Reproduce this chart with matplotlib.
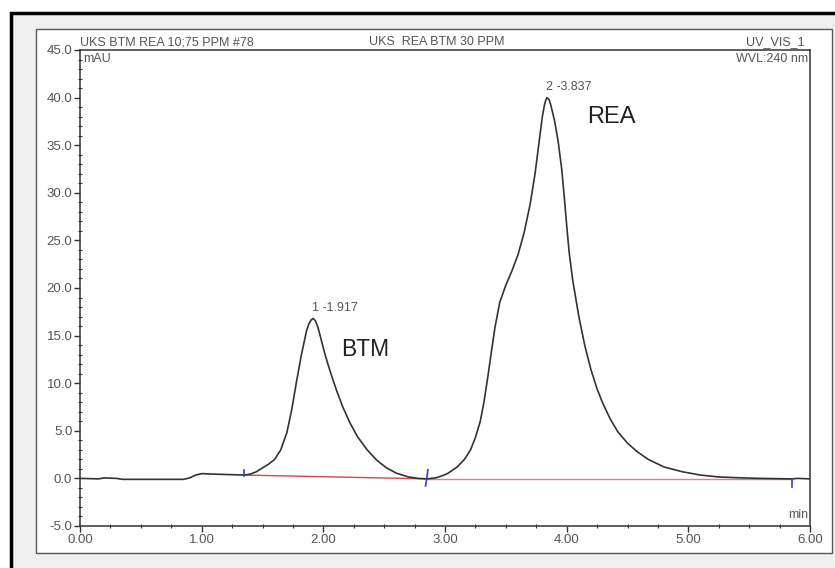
import matplotlib
matplotlib.use("Agg")
import matplotlib.pyplot as plt
from matplotlib.patches import Rectangle
from matplotlib.ticker import MultipleLocator, FormatStrFormatter

plt.rcParams['font.family'] = ['Liberation Sans', 'DejaVu Sans']

# chromatogram trace (min, mAU)
time_min = [0.00, 0.15, 0.20, 0.30, 0.35, 0.85, 0.90, 0.95, 1.00, 1.10, 1.35,
            1.40, 1.45, 1.50, 1.55, 1.60, 1.65, 1.70, 1.74, 1.78, 1.82, 1.86,
            1.88, 1.90, 1.917, 1.935, 1.955, 1.98, 2.01, 2.04, 2.07, 2.11, 2.16,
            2.22, 2.28, 2.36, 2.44, 2.52, 2.60, 2.70, 2.78, 2.85, 2.92, 2.96,
            3.02, 3.10, 3.16, 3.21, 3.25, 3.29, 3.32, 3.35, 3.38, 3.41, 3.45,
            3.50, 3.55, 3.60, 3.65, 3.70, 3.74, 3.77, 3.80, 3.82, 3.837, 3.855,
            3.87, 3.90, 3.93, 3.96, 3.98, 4.00, 4.02, 4.05, 4.10, 4.15, 4.20,
            4.25, 4.30, 4.36, 4.42, 4.50, 4.58, 4.67, 4.80, 4.95, 5.10, 5.25,
            5.45, 5.60, 5.85, 5.90, 6.00]
signal_mau = [0.0, -0.05, 0.05, 0.0, -0.1, -0.1, 0.05, 0.35, 0.5, 0.45, 0.35,
              0.45, 0.7, 1.1, 1.5, 2.0, 3.0, 4.8, 7.2, 10.2, 13.0, 15.4,
              16.2, 16.65, 16.8, 16.55, 15.9, 14.7, 13.2, 11.9, 10.7, 9.2, 7.5,
              5.8, 4.4, 3.0, 1.9, 1.1, 0.55, 0.15, 0.0, -0.05, 0.05, 0.2,
              0.5, 1.2, 2.0, 3.0, 4.3, 6.0, 8.0, 10.5, 13.2, 15.8, 18.5,
              20.3, 21.8, 23.5, 25.8, 28.8, 32.0, 35.0, 38.0, 39.4, 40.0, 39.8,
              39.2, 37.6, 35.4, 32.4, 29.6, 26.6, 23.8, 20.8, 17.0, 13.9, 11.4,
              9.4, 7.8, 6.2, 4.9, 3.7, 2.8, 2.0, 1.2, 0.7, 0.35, 0.15,
              0.05, 0.0, -0.05, 0.0, -0.05]

# integration baselines
base1_t = [1.35, 2.85]
base1_v = [0.35, -0.05]
base2_t = [2.85, 5.85]
base2_v = [-0.05, -0.05]

# peak start/end markers (x0, x1, y0, y1)
marker_t0 = [1.35, 2.84, 5.85]
marker_t1 = [1.35, 2.86, 5.85]
marker_v0 = [0.2, -0.8, -0.9]
marker_v1 = [0.9, 0.9, -0.1]

peak_rt = [1.917, 3.837]
peak_h = [16.8, 40.0]
peak_tags = ["1 -1.917", "2 -3.837"]

fig = plt.figure(figsize=(8.35, 5.68), dpi=100)
fig.patch.set_facecolor("white")
W, H = 835.0, 568.0

# outer frame and inner panel
fig.patches.append(Rectangle((11 / W, -0.1), 1.2, 1 - 13 / H + 0.1,
                             transform=fig.transFigure, facecolor="#efefef",
                             edgecolor="black", lw=2.5, zorder=-3))
fig.patches.append(Rectangle((36 / W, 1 - 553 / H), (832 - 36) / W, (553 - 29) / H,
                             transform=fig.transFigure, facecolor="white",
                             edgecolor="#555555", lw=1.0, zorder=-2))

ax = fig.add_axes([80 / W, 1 - 526 / H, (810 - 80) / W, (526 - 50) / H])
ax.set_facecolor("none")

ax.plot(time_min, signal_mau, color="#333333", lw=1.2, zorder=3)
ax.plot(base1_t, base1_v, color="#d04a4a", lw=1.0, zorder=2)
ax.plot(base2_t, base2_v, color="#e08080", lw=1.0, zorder=2)
for a, b, c, d in zip(marker_t0, marker_t1, marker_v0, marker_v1):
    ax.plot([a, b], [c, d], color="#3a3ad0", lw=1.2, zorder=4)

for rt, h, tag in zip(peak_rt, peak_h, peak_tags):
    ax.text(rt - 0.01, h + 0.5, tag, fontsize=9, color="#555555",
            ha="left", va="bottom")

ax.text(2.15, 13.5, "BTM", fontsize=16.5, color="#222222", va="center")
ax.text(4.17, 38.0, "REA", fontsize=17, color="#222222", va="center")

ax.set_xlim(0, 6)
ax.set_ylim(-5, 45)
ax.xaxis.set_major_locator(MultipleLocator(1))
ax.xaxis.set_minor_locator(MultipleLocator(0.25))
ax.yaxis.set_major_locator(MultipleLocator(5))
ax.yaxis.set_minor_locator(MultipleLocator(1))
ax.xaxis.set_major_formatter(FormatStrFormatter("%.2f"))
ax.yaxis.set_major_formatter(FormatStrFormatter("%.1f"))
ax.tick_params(which="major", direction="out", length=4, width=1,
               labelsize=9.5, labelcolor="#555555", color="#333333", pad=1.5)
ax.tick_params(which="minor", direction="inout", length=3, width=0.8,
               color="#333333")
for s in ax.spines.values():
    s.set_color("#333333")
    s.set_linewidth(1.1)

# header texts
ax.text(0.0, 1.004, "UKS BTM REA 10;75 PPM #78", transform=ax.transAxes,
        fontsize=9, color="#555555", ha="left", va="bottom")
ax.text(0.489, 1.004, "UKS  REA BTM 30 PPM", transform=ax.transAxes,
        fontsize=9, color="#555555", ha="center", va="bottom")
ax.text(0.993, 1.004, "UV_VIS_1", transform=ax.transAxes,
        fontsize=9, color="#555555", ha="right", va="bottom")
ax.text(0.005, 0.993, "mAU", transform=ax.transAxes,
        fontsize=9, color="#555555", ha="left", va="top")
ax.text(0.997, 0.993, "WVL:240 nm", transform=ax.transAxes,
        fontsize=9, color="#555555", ha="right", va="top")
ax.text(0.997, 0.01, "min", transform=ax.transAxes,
        fontsize=9, color="#555555", ha="right", va="bottom")

fig.savefig("out.png", dpi=100)
